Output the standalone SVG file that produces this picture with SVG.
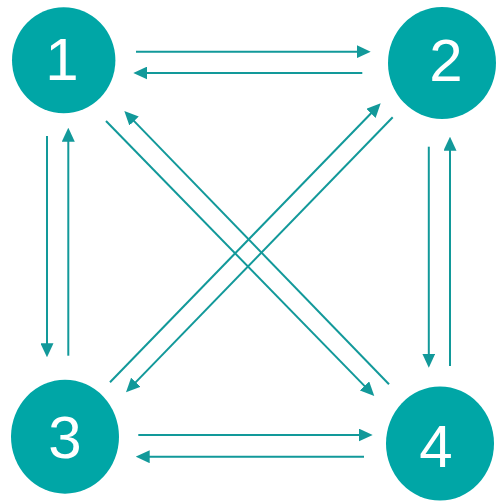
<svg xmlns="http://www.w3.org/2000/svg" width="496" height="501" viewBox="0 0 496 501">
  <style>
    .node { fill: #00a6a6; }
    .label { fill: #ffffff; font-family: "Liberation Sans", Arial, sans-serif; font-size: 60px; text-anchor: middle; }
    .edge { stroke: #12999a; stroke-width: 2; fill: none; marker-end: url(#head); }
  </style>
  <defs>
    <marker id="head" markerUnits="userSpaceOnUse" markerWidth="14" markerHeight="13" refX="10" refY="6.5" orient="auto" viewBox="0 0 14 13">
      <path d="M0,0 L14,6.5 L0,13 z" fill="#12999a"/>
    </marker>
  </defs>
  <rect width="496" height="501" fill="#ffffff"/>

  <g id="connectors">
    <!-- 1 <-> 2 -->
    <line class="edge" x1="136" y1="51.7" x2="366.7" y2="51.7"/>
    <line class="edge" x1="362.3" y1="73" x2="137.3" y2="73"/>
    <!-- 3 <-> 4 -->
    <line class="edge" x1="138.3" y1="435" x2="368.7" y2="435"/>
    <line class="edge" x1="364" y1="456.7" x2="139.7" y2="456.7"/>
    <!-- 1 <-> 3 -->
    <line class="edge" x1="47" y1="136" x2="47" y2="353.3"/>
    <line class="edge" x1="68.3" y1="355.7" x2="68.3" y2="131.7"/>
    <!-- 2 <-> 4 -->
    <line class="edge" x1="428.8" y1="146.7" x2="428.8" y2="363.7"/>
    <line class="edge" x1="450" y1="366" x2="450" y2="140.7"/>
    <!-- 1 <-> 4 -->
    <line class="edge" x1="106" y1="121" x2="371.5" y2="393.1"/>
    <line class="edge" x1="389" y1="384.3" x2="127.1" y2="113.9"/>
    <!-- 2 <-> 3 -->
    <line class="edge" x1="392.7" y1="117.3" x2="128.8" y2="389.4"/>
    <line class="edge" x1="110" y1="382.3" x2="377.9" y2="106.2"/>
  </g>

  <g id="node1">
    <ellipse class="node" cx="63.7" cy="60.3" rx="51.7" ry="53"/>
    <text class="label" x="62" y="80">1</text>
  </g>
  <g id="node2">
    <ellipse class="node" cx="442" cy="63" rx="54" ry="56"/>
    <text class="label" x="446" y="81">2</text>
  </g>
  <g id="node3">
    <ellipse class="node" cx="65" cy="436.7" rx="54" ry="57"/>
    <text class="label" x="65" y="458">3</text>
  </g>
  <g id="node4">
    <ellipse class="node" cx="440" cy="443.5" rx="54" ry="57"/>
    <text class="label" x="436" y="467">4</text>
  </g>
</svg>
